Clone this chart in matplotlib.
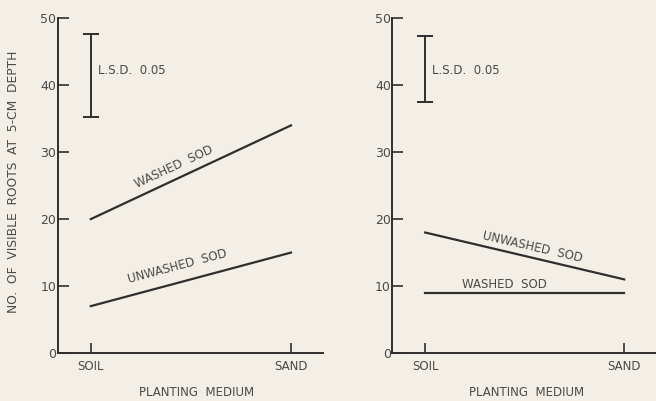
import matplotlib.pyplot as plt

# planting medium on the x axis
media = ["SOIL", "SAND"]
media_pos = [0, 1]

# roots at 5-cm depth, left panel
left_washed = [20, 34]
left_unwashed = [7, 15]
left_lsd = (35.2, 47.6)

# roots at 5-cm depth, right panel
right_unwashed = [18, 11]
right_washed = [9, 9]
right_lsd = (37.5, 47.3)

bg = "#f3efe7"
ink = "#2e2e2e"
txt = "#4a4a4a"

plt.rcParams["font.family"] = ["DejaVu Sans"]

fig = plt.figure(figsize=(6.56, 4.01), dpi=100)
fig.patch.set_facecolor(bg)

ax1 = fig.add_axes([0.088, 0.1197, 0.4044, 0.8347])
ax2 = fig.add_axes([0.598, 0.1197, 0.402, 0.8347])


def style(ax, xlab_x):
    ax.set_facecolor(bg)
    ax.set_xlim(-0.165, 1.16)
    ax.set_ylim(0, 50)
    for s in ("top", "right"):
        ax.spines[s].set_visible(False)
    for s in ("left", "bottom"):
        ax.spines[s].set_color(ink)
        ax.spines[s].set_linewidth(1.4)
    ax.set_yticks([0, 10, 20, 30, 40, 50])
    ax.set_xticks(media_pos)
    ax.set_xticklabels(media)
    ax.tick_params(axis="y", direction="in", length=8, width=1.2, color=ink,
                   labelsize=9, labelcolor=txt, pad=1)
    ax.tick_params(axis="x", direction="in", length=7, width=1.2, color=ink,
                   labelsize=8.5, labelcolor=txt, pad=5)
    ax.set_xlabel("PLANTING  MEDIUM", fontsize=8.5, color=txt)
    ax.xaxis.set_label_coords(xlab_x, -0.10)


def lsd_bar(ax, lo, hi):
    ax.errorbar([0], [(lo + hi) / 2], yerr=[[(hi - lo) / 2]], color=ink,
                lw=1.4, capsize=6, capthick=1.4)
    ax.text(0.035, 42.2, "L.S.D.  0.05", fontsize=8.5, color=txt,
            va="center", ha="left")


style(ax1, 0.525)
ax1.plot(media_pos, left_washed, color=ink, lw=1.6)
ax1.plot(media_pos, left_unwashed, color=ink, lw=1.6)
lsd_bar(ax1, *left_lsd)
ax1.text(0.415, 27.8, "WASHED  SOD", rotation=25, fontsize=8.5, color=txt,
         ha="center", va="center", rotation_mode="anchor")
ax1.text(0.435, 13.0, "UNWASHED  SOD", rotation=15, fontsize=8.5, color=txt,
         ha="center", va="center", rotation_mode="anchor")
ax1.set_ylabel("NO.  OF  VISIBLE  ROOTS  AT  5-CM  DEPTH", fontsize=8.8,
               color=txt)
ax1.yaxis.set_label_coords(-0.142, 0.51)

style(ax2, 0.511)
ax2.plot(media_pos, right_unwashed, color=ink, lw=1.6)
ax2.plot(media_pos, right_washed, color=ink, lw=1.6)
lsd_bar(ax2, *right_lsd)
ax2.text(0.54, 15.8, "UNWASHED  SOD", rotation=-13, fontsize=8.5, color=txt,
         ha="center", va="center", rotation_mode="anchor")
ax2.text(0.40, 9.3, "WASHED  SOD", fontsize=8.5, color=txt,
         ha="center", va="bottom")

fig.savefig("out.png", dpi=100, facecolor=bg)
